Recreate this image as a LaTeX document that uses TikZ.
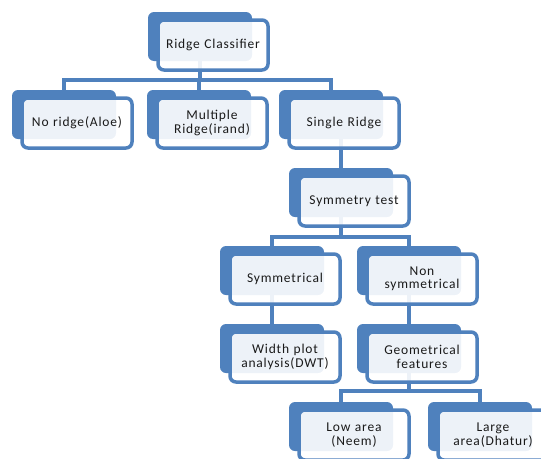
\documentclass[tikz,border=0pt]{standalone}
\usepackage{fontspec}
\setmainfont{Carlito}
\usetikzlibrary{backgrounds}
\definecolor{RCBlue}{HTML}{4F81BD}
\definecolor{RCText}{HTML}{1A1A1A}

\begin{document}
\begin{tikzpicture}[
  x=1pt,
  y=-1pt,
  back/.style={
    rectangle,
    rounded corners=6pt,
    fill=RCBlue,
    minimum width=104pt,
    minimum height=49pt,
    inner sep=0pt
  },
  front/.style={
    rectangle,
    rounded corners=6pt,
    draw=RCBlue,
    line width=3.5pt,
    fill=white,
    fill opacity=0.9,
    text opacity=1,
    text=RCText,
    minimum width=110pt,
    minimum height=50pt,
    text width=104pt,
    align=center,
    inner sep=0pt,
    font=\addfontfeatures{LetterSpace=6}\fontsize{13.5}{13.5}\selectfont
  },
  link/.style={draw=RCBlue, line width=3.5pt},
]
\useasboundingbox (0,0) rectangle (541,458);
\clip (0,0) rectangle (541,458);

\node[back] (ridge-b) at (200,36.5) {};
\node[front] (ridge) at (213,45) {Ridge Classifier};

\node[back] (noridge-b) at (64,114.5) {};
\node[front] (noridge) at (77,123) {No ridge(Aloe)};
\node[back] (multi-b) at (199,114.5) {};
\node[front] (multi) at (212,123) {Multiple\\Ridge(irand)};
\node[back] (single-b) at (331,114.5) {};
\node[front] (single) at (344,123) {Single Ridge};

\node[back] (symtest-b) at (341,192.5) {};
\node[front] (symtest) at (354,201) {Symmetry test};

\node[back] (symm-b) at (272,270.5) {};
\node[front] (symm) at (285,279) {Symmetrical};
\node[back] (nonsym-b) at (409,270.5) {};
\node[front] (nonsym) at (422,279) {Non\\symmetrical};

\node[back] (width-b) at (272,348.5) {};
\node[front] (width) at (285,357) {Width plot\\analysis(DWT)};
\node[back] (geom-b) at (409,348.5) {};
\node[front] (geom) at (422,357) {Geometrical\\features};

\node[back] (low-b) at (341,426.5) {};
\node[front] (low) at (354,435) {Low area\\(Neem)};
\node[back] (large-b) at (480,426.5) {};
\node[front] (large) at (493,435) {Large\\area(Dhatur)};

\coordinate (bar-ridge) at (200,80);
\coordinate (bar-sym) at (341,237);
\coordinate (bar-geom) at (409,391);

\begin{scope}[on background layer]
  \draw[link] (ridge-b) -- (bar-ridge) -| (noridge-b);
  \draw[link] (bar-ridge) -| (multi-b);
  \draw[link] (bar-ridge) -| (single-b);

  \draw[link] (symtest-b) -- (symtest-b |- single-b.south);

  \draw[link] (symtest-b) -- (bar-sym) -| (symm-b);
  \draw[link] (bar-sym) -| (nonsym-b);

  \draw[link] (symm-b) -- (width-b);
  \draw[link] (nonsym-b) -- (geom-b);

  \draw[link] (geom-b) -- (bar-geom) -| (low-b);
  \draw[link] (bar-geom) -| (large-b);
\end{scope}
\end{tikzpicture}
\end{document}
